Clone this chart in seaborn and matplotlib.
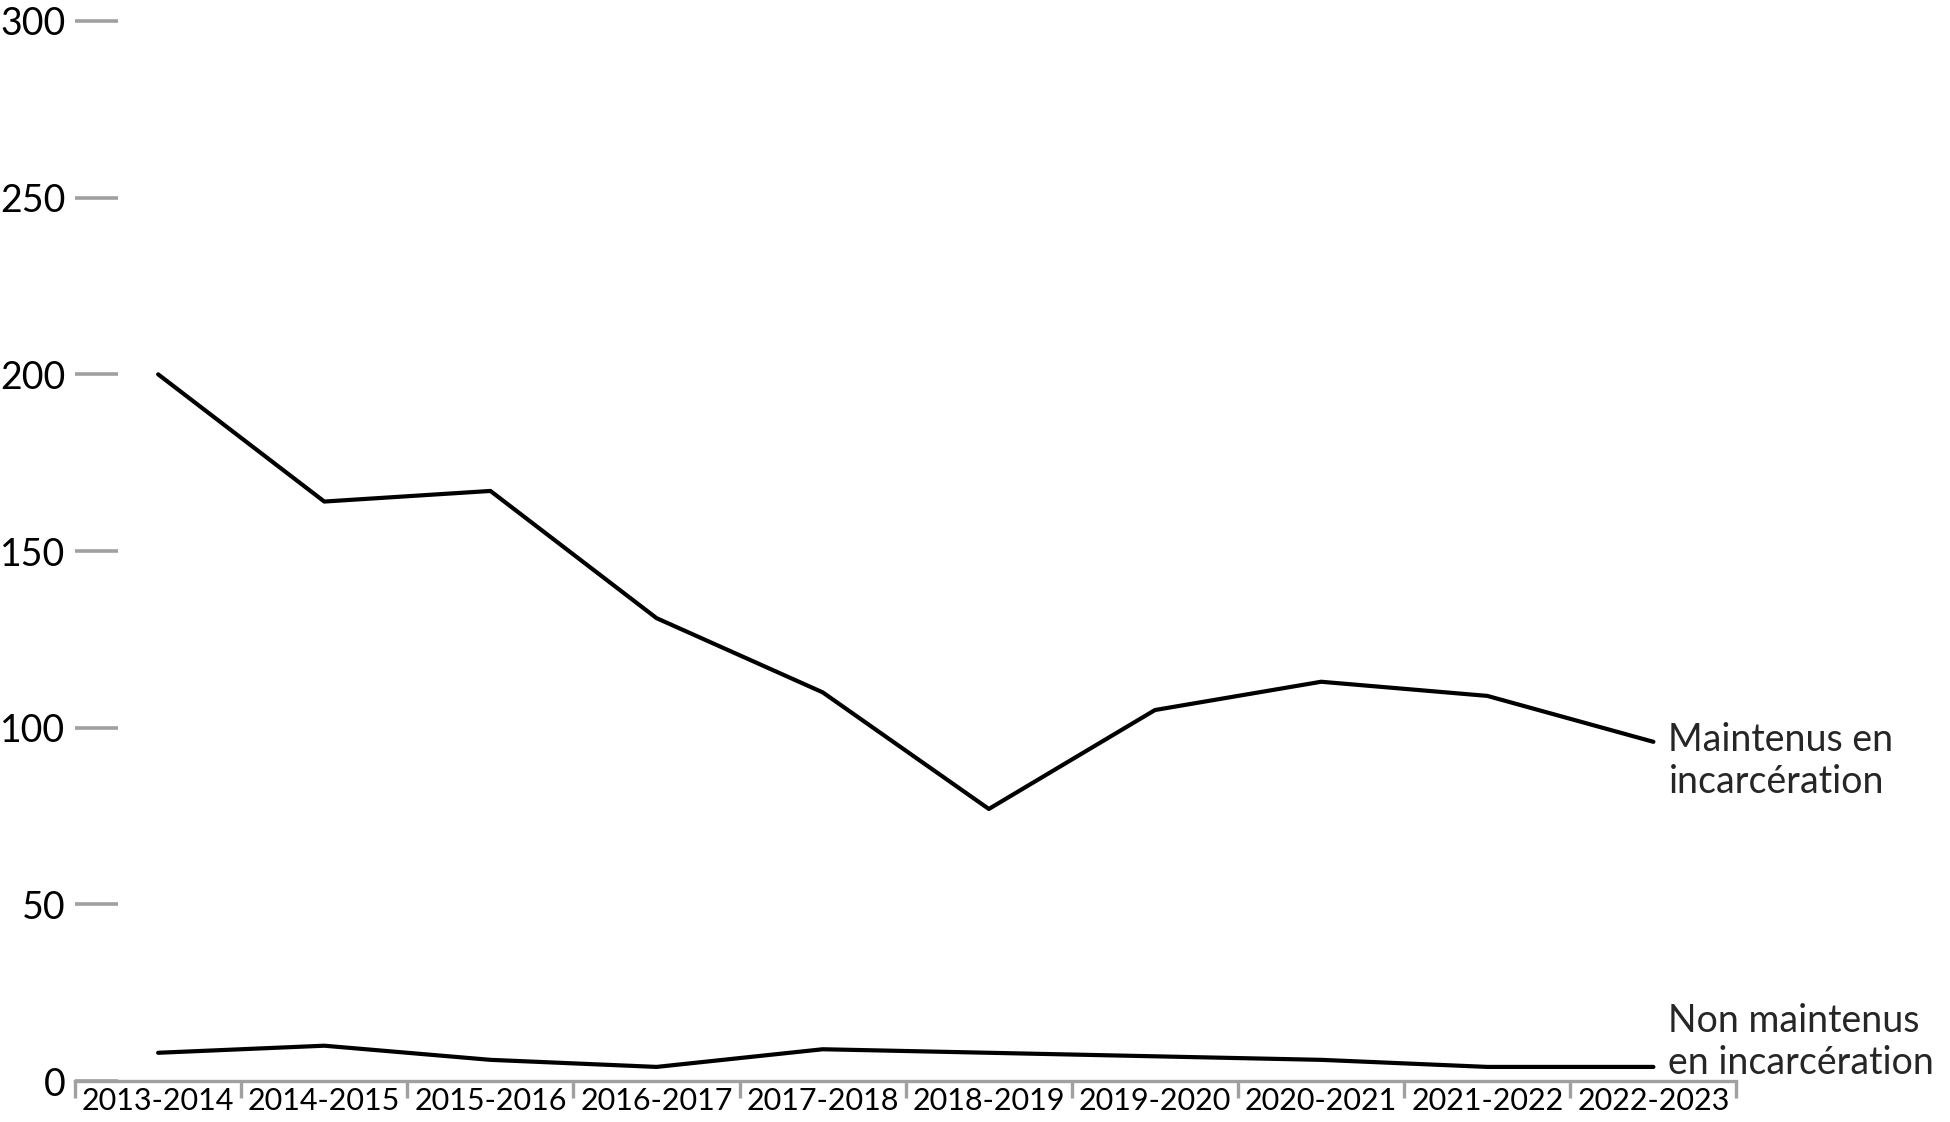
import pandas as pd
import matplotlib.pyplot as plt
import seaborn as sns

# Values
years = ['2013-2014', '2014-2015', '2015-2016', '2016-2017', '2017-2018',
         '2018-2019', '2019-2020', '2020-2021', '2021-2022', '2022-2023']
maintenus = [200, 164, 167, 131, 110, 77, 105, 113, 109, 96]
non_maintenus = [8, 10, 6, 4, 9, 8, 7, 6, 4, 4]
series_names = ['Maintenus en\nincarcération', 'Non maintenus\nen incarcération']

df = pd.DataFrame({
    'annee': years * 2,
    'valeur': maintenus + non_maintenus,
    'serie': [series_names[0]] * len(years) + [series_names[1]] * len(years),
})

sns.set_style('white')
plt.rcParams['font.family'] = ['Lato', 'DejaVu Sans']

gray = '#A0A0A0'

fig = plt.figure(figsize=(19.5, 11.22), dpi=100)
ax = fig.add_axes([0.0385, 0.0365, 0.852, 0.9448])

sns.lineplot(data=df, x='annee', y='valeur', hue='serie',
             palette=['black', 'black'], linewidth=3, legend=False,
             sort=False, ax=ax)

ax.set_xlim(-0.5, len(years) - 0.5)
ax.set_ylim(0, 300)
ax.set_xlabel('')
ax.set_ylabel('')

# y axis: no line, gray tick marks inside
ax.set_yticks(range(0, 301, 50))
ax.tick_params(axis='y', left=True, direction='in', length=31, width=2.6,
               color=gray, pad=7, labelsize=27, labelcolor='black')

# x axis: gray line, boundary ticks between categories
ax.set_xticks(range(len(years)))
ax.set_xticklabels(years)
ax.set_xticks([i - 0.5 for i in range(len(years) + 1)], minor=True)
ax.tick_params(axis='x', which='major', bottom=True, length=0, pad=4,
               labelsize=22, labelcolor='black')
ax.tick_params(axis='x', which='minor', bottom=True, direction='out',
               length=12, width=2.4, color=gray)

for side in ['left', 'right', 'top']:
    ax.spines[side].set_visible(False)
ax.spines['bottom'].set_color(gray)
ax.spines['bottom'].set_linewidth(2.4)

# end labels
ax.annotate(series_names[0], xy=(len(years) - 1, maintenus[-1]),
            xytext=(15, -19), textcoords='offset pixels',
            va='center', ha='left', fontsize=27, annotation_clip=False)
ax.annotate(series_names[1], xy=(len(years) - 1, non_maintenus[-1]),
            xytext=(15, 25), textcoords='offset pixels',
            va='center', ha='left', fontsize=27, annotation_clip=False)

fig.savefig('out.png', dpi=100)
